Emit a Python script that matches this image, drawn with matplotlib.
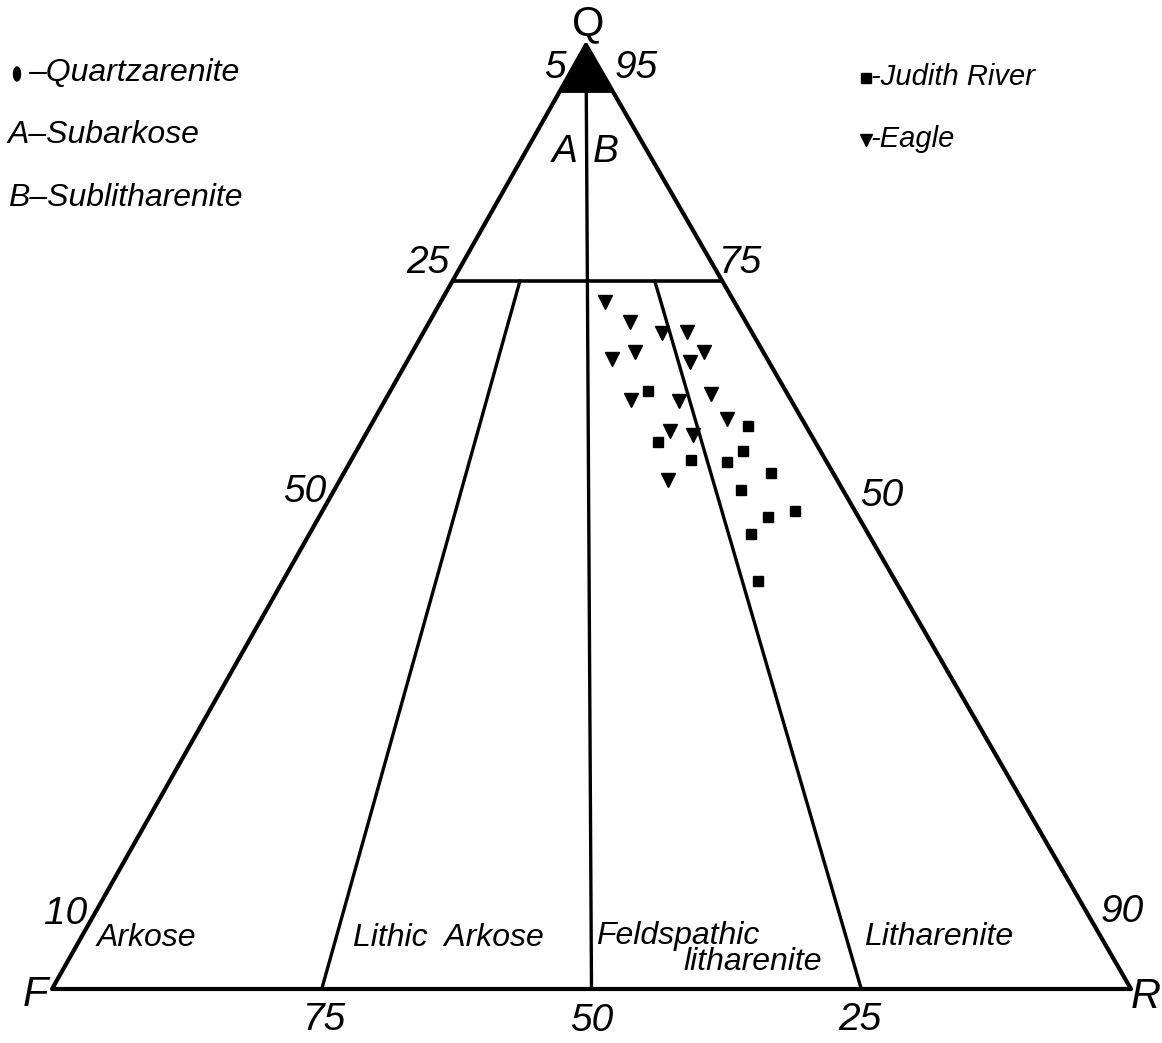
import numpy as np
import matplotlib
matplotlib.use('Agg')
import matplotlib.pyplot as plt
from matplotlib.patches import Ellipse, Polygon

plt.rcParams['font.family'] = ['Liberation Sans', 'DejaVu Sans']

# modal composition (percent Q, F, R) of the sandstone samples
judith_q = [63.3, 59.6, 57.9, 57.0, 56.0, 55.8, 54.7, 52.9, 50.6, 50.0, 48.2, 43.2]
judith_f = [12.8, 5.4, 14.6, 7.2, 12.5, 9.2, 5.8, 9.4, 5.6, 8.4, 10.9, 12.7]
judith_r = [23.9, 35.0, 27.5, 35.8, 31.5, 34.9, 39.6, 37.7, 43.8, 41.6, 40.9, 44.0]

eagle_q = [72.8, 70.7, 69.5, 69.6, 66.7, 67.5, 67.5, 66.4, 62.4, 62.3, 63.0, 60.4, 59.1, 58.7, 53.9]
eagle_f = [12.0, 10.7, 8.4, 6.0, 14.4, 11.9, 5.5, 7.3, 14.8, 10.4, 7.1, 6.9, 12.9, 10.9, 15.7]
eagle_r = [15.2, 18.6, 22.1, 24.4, 18.9, 20.6, 27.0, 26.3, 22.8, 27.3, 29.9, 32.7, 28.0, 30.4, 30.4]

# classification boundaries
q_quartzarenite = 95
q_sub = 75
fr_splits = [0.25, 0.5, 0.75]   # R / (F + R)

# corner positions of the diagram on the page
QV = np.array([586.0, 45.0])
FV = np.array([52.0, 989.0])
RV = np.array([1131.0, 989.0])


def tern(q, f, r):
    q, f, r = np.asarray(q, float), np.asarray(f, float), np.asarray(r, float)
    s = q + f + r
    q, f, r = q / s, f / s, r / s
    x = q * QV[0] + f * FV[0] + r * RV[0]
    y = q * QV[1] + f * FV[1] + r * RV[1]
    return x, y


fig = plt.figure(figsize=(11.62, 10.43), dpi=100)
ax = fig.add_axes([0, 0, 1, 1])
ax.set_xlim(0, 1162)
ax.set_ylim(1043, 0)
ax.axis('off')

k = dict(color='black', solid_capstyle='round', solid_joinstyle='round')

# outer triangle
x, y = tern([100, 0, 0, 100], [0, 100, 0, 0], [0, 0, 100, 0])
ax.plot(x, y, lw=3.0, **k)

# quartzarenite cap
qa = q_quartzarenite
x, y = tern([100, qa, qa], [0, 100 - qa, 0], [0, 0, 100 - qa])
ax.add_patch(Polygon(np.column_stack([x, y]), closed=True, fc='black', ec='black'))

# 75% Q line
x, y = tern([q_sub, q_sub], [100 - q_sub, 0], [0, 100 - q_sub])
ax.plot(x, y, lw=2.6, **k)

# F:R split lines
for s in fr_splits:
    top = 100 if s == 0.5 else q_sub
    x, y = tern([0, top], [100 * (1 - s), (100 - top) * (1 - s)],
                [100 * s, (100 - top) * s])
    ax.plot(x, y, lw=2.4, **k)

# samples
x, y = tern(eagle_q, eagle_f, eagle_r)
ax.plot(x, y, 'v', ms=9.5, color='black', ls='none')
x, y = tern(judith_q, judith_f, judith_r)
ax.plot(x, y, 's', ms=7.8, color='black', ls='none')

num = dict(fontsize=28, style='italic', ha='center', va='center')
ax.text(588, 24, 'Q', fontsize=30, ha='center', va='center')
ax.text(35, 995, 'F', fontsize=30, style='italic', ha='center', va='center')
ax.text(1146, 997, 'R', fontsize=30, style='italic', ha='center', va='center')
ax.text(555, 68, '5', **num)
ax.text(636, 68, '95', **num)
ax.text(428, 263, '25', **num)
ax.text(741, 263, '75', **num)
ax.text(305, 492, '50', **num)
ax.text(882, 496, '50', **num)
ax.text(66, 914, '10', **num)
ax.text(1122, 912, '90', **num)
ax.text(325, 1020, '75', **num)
ax.text(592, 1021, '50', **num)
ax.text(860, 1020, '25', **num)
ax.text(565, 152, 'A', **num)
ax.text(606, 152, 'B', **num)

lab = dict(fontsize=23, style='italic', ha='left', va='center')
ax.text(97, 938, 'Arkose', **lab)
ax.text(353, 938, 'Lithic  Arkose', **lab)
ax.text(596, 936, 'Feldspathic', **lab)
ax.text(683, 962, 'litharenite', **lab)
ax.text(864, 937, 'Litharenite', **lab)

# legends
leg = dict(fontsize=23, style='italic', ha='left', va='center')
ax.add_patch(Ellipse((17, 74), 7, 14, fc='black', ec='black'))
ax.text(28, 73, '–Quartzarenite', **leg)
ax.text(8, 135, 'A–Subarkose', **leg)
ax.text(8, 198, 'B–Sublitharenite', **leg)

leg2 = dict(leg, fontsize=21)
ax.plot([866], [78], 's', ms=7, color='black')
ax.text(871, 77, '-Judith River', **leg2)
ax.plot([866], [140], 'v', ms=8, color='black')
ax.text(871, 139, '-Eagle', **leg2)

fig.savefig('out.png', dpi=100)
